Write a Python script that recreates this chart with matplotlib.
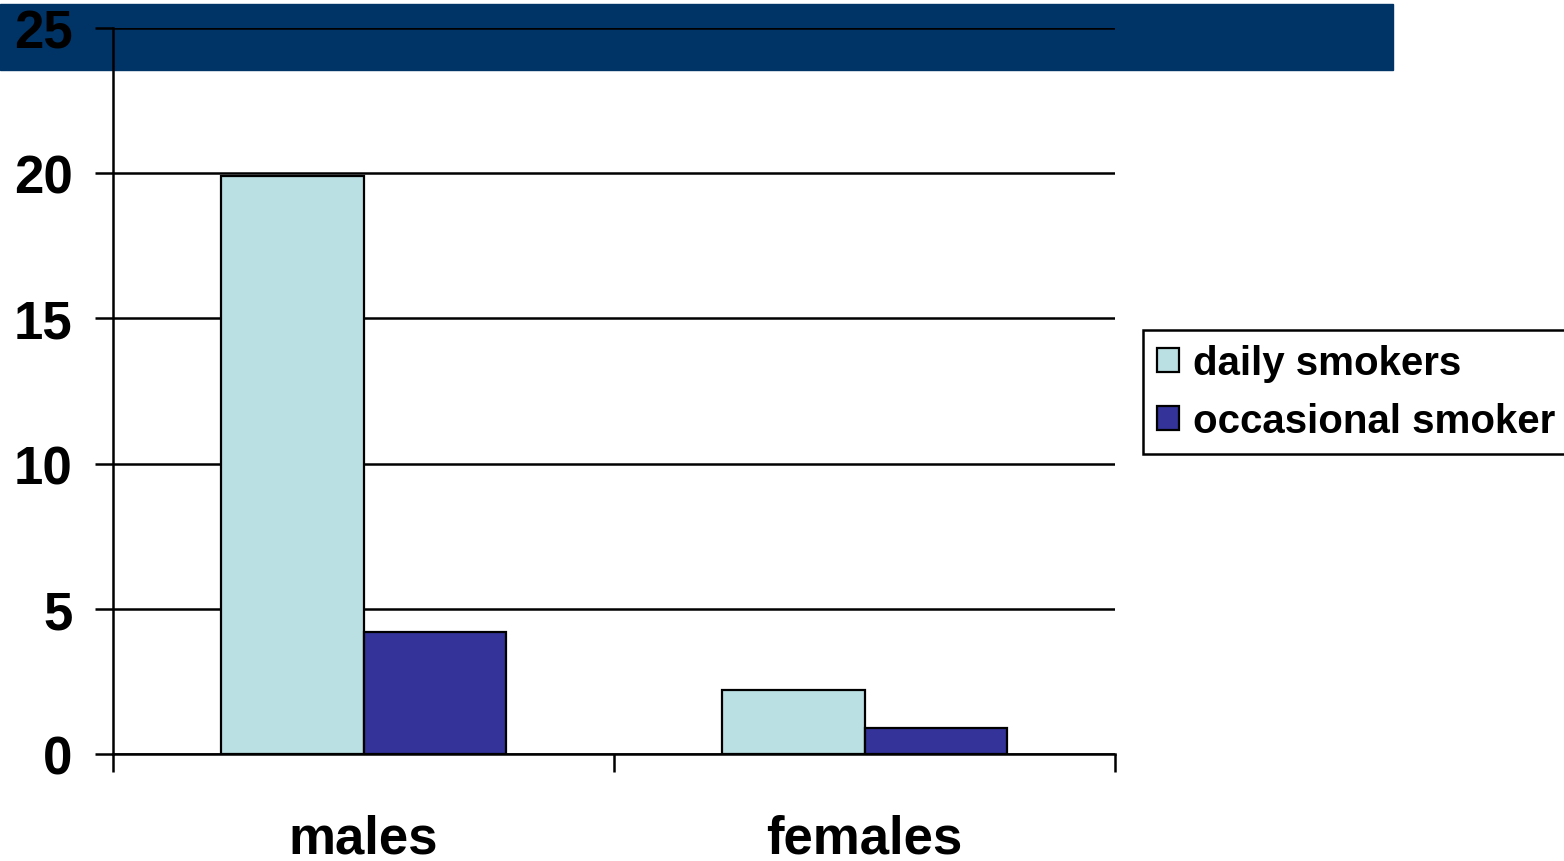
import matplotlib
matplotlib.use('Agg')

import matplotlib.pyplot as plt
import numpy as np
from matplotlib.patches import Rectangle

groups = ['males', 'females']
series = ['daily smokers', 'occasional smoker']
daily = [19.9, 2.2]
occasional = [4.2, 0.9]
yticks = [0, 5, 10, 15, 20, 25]

plt.rcParams['font.family'] = ['Liberation Sans', 'DejaVu Sans']
plt.rcParams['font.weight'] = 'bold'

fig = plt.figure(figsize=(15.64, 8.62), dpi=100)

# dark banner across the top
fig.patches.append(Rectangle((0, 1 - 71 / 862), 1393 / 1564, 66 / 862,
                             transform=fig.transFigure, color='#003366', zorder=0))

ax = fig.add_axes([113 / 1564, 107 / 862, 1002 / 1564, 726 / 862])
ax.set_zorder(2)
ax.patch.set_alpha(0)

x = np.arange(len(groups))
w = 0.285
ax.bar(x - w / 2, daily, w, color='#BBE0E3', edgecolor='black', lw=1.6,
       label=series[0], zorder=3)
ax.bar(x + w / 2, occasional, w, color='#333399', edgecolor='black', lw=1.6,
       label=series[1], zorder=3)

ax.set_xlim(-0.5, 1.5)
ax.set_ylim(0, 25)
ax.set_yticks(yticks)
ax.set_yticklabels([str(v) for v in yticks], fontsize=38, fontweight='bold')
ax.yaxis.grid(True, color='black', lw=1.8)
ax.set_axisbelow(True)

ax.set_xticks([-0.5, 0.5, 1.5])
ax.set_xticklabels(['', '', ''])
ax.set_xticks(x, minor=True)
ax.set_xticklabels(groups, minor=True, fontsize=38, fontweight='bold')
ax.tick_params(axis='x', which='minor', length=0, pad=43)
ax.tick_params(axis='x', which='major', length=13, width=1.8, direction='out')
ax.tick_params(axis='y', length=13, width=1.8, pad=16)

for s in ['top', 'right']:
    ax.spines[s].set_visible(False)
ax.spines['left'].set_linewidth(1.8)
ax.spines['bottom'].set_linewidth(1.8)
ax.spines['left'].set_clip_on(False)

leg = fig.legend(loc='upper left', bbox_to_anchor=(1143 / 1564, 1 - 331 / 862),
                 fontsize=29, frameon=True, fancybox=False, edgecolor='black',
                 framealpha=1, handlelength=0.55, handleheight=0.55,
                 handletextpad=0.33, borderpad=0.35, labelspacing=0.5,
                 borderaxespad=0)
leg.get_frame().set_linewidth(1.8)
for t in leg.get_texts():
    t.set_fontweight('bold')

plt.savefig('out.png', dpi=100)
